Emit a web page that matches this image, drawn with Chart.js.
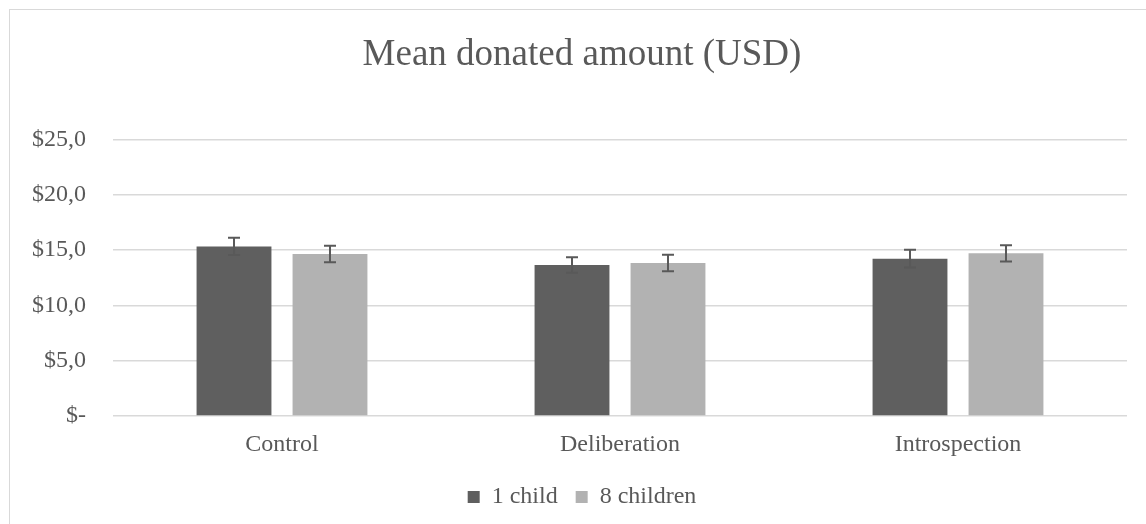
<!DOCTYPE html>
<html>
<head>
<meta charset="utf-8">
<script src="https://cdn.jsdelivr.net/npm/chart.js@4/dist/chart.umd.min.js"></script>
<style>
  html, body { margin: 0; padding: 0; background: #fff; overflow: hidden; }
  #wrap { position: relative; width: 1146px; height: 524px; }
  #frame { position: absolute; left: 9px; top: 9px; width: 1200px; height: 600px; border: 1px solid #d9d9d9; box-sizing: border-box; }
  #chart { position: absolute; left: 0; top: 0; }
</style>
</head>
<body>
<div id="wrap">
  <div id="frame"></div>
  <canvas id="chart" width="1146" height="524"></canvas>
</div>
<script>
const categories = ["Control", "Deliberation", "Introspection"];
const seriesNames = ["1 child", "8 children"];
const oneChild = [15.33, 13.65, 14.22];
const oneChildErr = [0.77, 0.70, 0.80];
const eightChildren = [14.64, 13.83, 14.70];
const eightChildrenErr = [0.75, 0.75, 0.73];
const yTickLabels = ["$-", "$5,0", "$10,0", "$15,0", "$20,0", "$25,0"];

const textColor = "#595959";
const serif = "'Liberation Serif', 'Times New Roman', serif";

// draws the +/- error whiskers on top of each bar
const errorBars = {
    id: "errorBars",
    afterDatasetsDraw(chart) {
        const ctx = chart.ctx;
        const yScale = chart.scales.y;
        ctx.save();
        ctx.strokeStyle = "#595959";
        ctx.lineWidth = 2;
        chart.data.datasets.forEach((ds, i) => {
            const meta = chart.getDatasetMeta(i);
            meta.data.forEach((bar, j) => {
                const v = ds.data[j];
                const e = ds.errors[j];
                const top = yScale.getPixelForValue(v + e);
                const bot = yScale.getPixelForValue(v - e);
                ctx.beginPath();
                ctx.moveTo(bar.x, top);
                ctx.lineTo(bar.x, bot);
                ctx.moveTo(bar.x - 6, top);
                ctx.lineTo(bar.x + 6, top);
                ctx.moveTo(bar.x - 6, bot);
                ctx.lineTo(bar.x + 6, bot);
                ctx.stroke();
            });
        });
        ctx.restore();
    }
};

// y labels stick out a bit left of the axis box, don't let them get clipped
const wideLabels = {
    id: "wideLabels",
    afterLayout(chart) {
        chart.scales.y.left = 0;
    }
};

new Chart(document.getElementById("chart"), {
    type: "bar",
    data: {
        labels: categories,
        datasets: [
            { label: seriesNames[0], data: oneChild, errors: oneChildErr, backgroundColor: "#5f5f5f" },
            { label: seriesNames[1], data: eightChildren, errors: eightChildrenErr, backgroundColor: "#b2b2b2" }
        ]
    },
    options: {
        responsive: false,
        animation: false,
        devicePixelRatio: 1,
        categoryPercentage: 0.568,
        barPercentage: 0.78,
        layout: { padding: { left: 37, right: 19, top: 0, bottom: 5 } },
        plugins: {
            title: {
                display: true,
                text: "Mean donated amount (USD)",
                color: textColor,
                font: { family: serif, size: 37, weight: "normal" },
                padding: { top: 33, bottom: 62 }
            },
            legend: {
                position: "bottom",
                labels: {
                    color: textColor,
                    font: { family: serif, size: 24 },
                    boxWidth: 12,
                    boxHeight: 12,
                    padding: 18
                }
            },
            tooltip: { enabled: false }
        },
        scales: {
            x: {
                grid: { display: false },
                border: { display: false },
                ticks: { color: textColor, font: { family: serif, size: 24 }, padding: 6 },
                afterFit(scale) { scale.height = 51; }
            },
            y: {
                min: 0,
                max: 25,
                grid: { color: "#d9d9d9", lineWidth: 1.5, drawTicks: false },
                border: { display: false },
                ticks: {
                    stepSize: 5,
                    color: textColor,
                    font: { family: serif, size: 24 },
                    padding: 27,
                    callback: (value, index) => yTickLabels[index]
                },
                afterFit(scale) { scale.width = 76; }
            }
        }
    },
    plugins: [errorBars, wideLabels]
});
</script>
</body>
</html>
